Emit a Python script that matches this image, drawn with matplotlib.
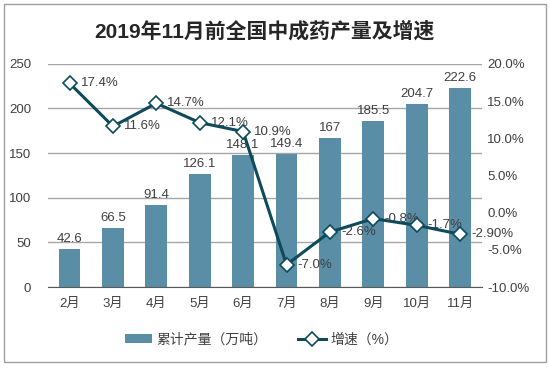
import matplotlib

matplotlib.use("Agg")

import matplotlib.pyplot as plt
from matplotlib.patches import Rectangle

plt.rcParams["font.family"] = ["Liberation Sans", "Noto Sans CJK SC", "DejaVu Sans"]

months = ["2月", "3月", "4月", "5月", "6月", "7月", "8月", "9月", "10月", "11月"]
output = [42.6, 66.5, 91.4, 126.1, 148.1, 149.4, 167, 185.5, 204.7, 222.6]
output_labels = ["42.6", "66.5", "91.4", "126.1", "148.1", "149.4", "167", "185.5", "204.7", "222.6"]
growth = [17.4, 11.6, 14.7, 12.1, 10.9, -7.0, -2.6, -0.8, -1.7, -2.9]
growth_labels = ["17.4%", "11.6%", "14.7%", "12.1%", "10.9%", "-7.0%", "-2.6%", "-0.8%", "-1.7%", "-2.90%"]

bar_color = "#5a8ea6"
line_color = "#0d4a5a"
text_color = "#404040"

fig = plt.figure(figsize=(5.5, 3.69), dpi=100)
ax = fig.add_axes([0.087, 0.222, 0.789, 0.605])

x = list(range(len(months)))
ax.bar(x, output, width=0.5, color=bar_color, zorder=2, label="累计产量（万吨）")
for xi, v, lab in zip(x, output, output_labels):
    ax.annotate(lab, (xi, v), xytext=(0, 3), textcoords="offset points",
                ha="center", va="bottom", fontsize=9.5, color=text_color, zorder=5)

ax.set_xlim(-0.5, len(months) - 0.5)
ax.set_ylim(0, 250)
ax.set_yticks([0, 50, 100, 150, 200, 250])
ax.set_xticks(x)
ax.set_xticklabels(months)
ax.grid(axis="y", color="#a6a6a6", linewidth=1, zorder=0)
for s in ["left", "right", "top"]:
    ax.spines[s].set_visible(False)
ax.spines["bottom"].set_color("#595959")
ax.tick_params(axis="both", length=0, labelsize=9.5, colors=text_color)
ax.tick_params(axis="x", pad=8)
ax.tick_params(axis="y", pad=12)

ax2 = ax.twinx()
ax2.plot(x, growth, color=line_color, linewidth=2.2, marker="D", markersize=7.5,
         markerfacecolor="white", markeredgecolor=line_color, markeredgewidth=1.2,
         zorder=4, label="增速（%）")
for xi, v, lab in zip(x, growth, growth_labels):
    ax2.annotate(lab, (xi, v), xytext=(8, 0), textcoords="offset points",
                 ha="left", va="center", fontsize=9.5, color=text_color)
ax2.set_ylim(-10, 20)
ax2.set_yticks([-10, -5, 0, 5, 10, 15, 20])
ax2.set_yticklabels(["%.1f%%" % t for t in [-10, -5, 0, 5, 10, 15, 20]])
for s in ["left", "right", "top", "bottom"]:
    ax2.spines[s].set_visible(False)
ax2.tick_params(axis="y", length=0, labelsize=9.5, colors=text_color, pad=4)

ax.set_zorder(1)
ax2.set_zorder(2)
ax.patch.set_visible(False)

h1, l1 = ax.get_legend_handles_labels()
h2, l2 = ax2.get_legend_handles_labels()
fig.legend(h1 + h2, l1 + l2, loc="center", bbox_to_anchor=(0.475, 0.08), ncol=2,
           frameon=False, fontsize=10, handlelength=2.0, handleheight=0.6,
           columnspacing=2.2, handletextpad=0.3, labelcolor=text_color)

fig.text(0.48, 0.915, "2019年11月前全国中成药产量及增速", ha="center", va="center",
         fontsize=15, fontweight="bold", color="#262626")

fig.patches.append(Rectangle((0.007, 0.018), 0.986, 0.97, transform=fig.transFigure,
                             fill=False, edgecolor="#a0a0a0", linewidth=1))

fig.savefig("out.png", dpi=100)
plt.close(fig)
